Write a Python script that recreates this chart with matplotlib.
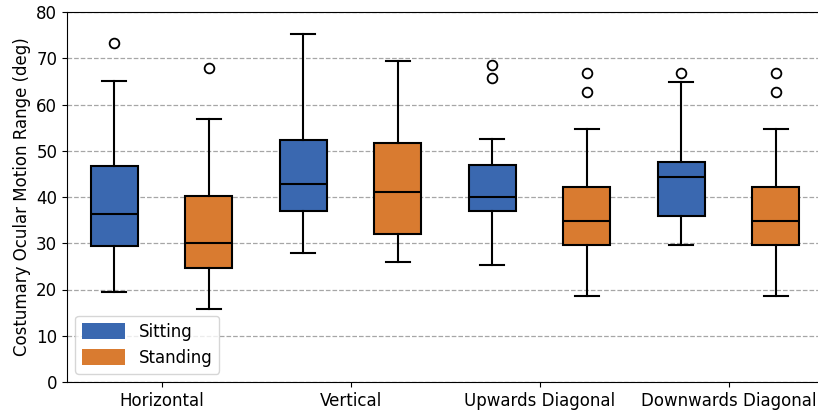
import matplotlib
matplotlib.use("Agg")
import matplotlib.pyplot as plt
from matplotlib.patches import Patch

categories = ["Horizontal", "Vertical", "Upwards Diagonal", "Downwards Diagonal"]
groups = ["Sitting", "Standing"]

# per category: [sitting, standing]
whislo = [[19.4, 15.8], [27.8, 26.0], [25.3, 18.7], [29.7, 18.7]]
q1 =     [[29.3, 24.6], [37.0, 31.9], [37.0, 29.7], [36.0, 29.7]]
med =    [[36.3, 30.0], [42.9, 41.1], [39.9, 34.8], [44.4, 34.8]]
q3 =     [[46.6, 40.3], [52.4, 51.7], [46.9, 42.2], [47.6, 42.2]]
whishi = [[65.0, 56.9], [75.2, 69.4], [52.5, 54.7], [64.9, 54.7]]
fliers = [[[73.4], [67.8]], [[], []], [[68.5, 65.7], [66.8, 62.8]], [[66.8], [66.8, 62.8]]]

colors = ["#3a68b0", "#d97b30"]

fig = plt.figure(figsize=(8.18, 4.16), dpi=100)
ax = fig.add_axes([67/818, 34/416, 756/818, 370/416])

offsets = [-0.25, 0.25]
for g in range(2):
    stats = []
    pos = []
    for i in range(len(categories)):
        stats.append(dict(whislo=whislo[i][g], q1=q1[i][g], med=med[i][g],
                          q3=q3[i][g], whishi=whishi[i][g], fliers=fliers[i][g]))
        pos.append(i + offsets[g])
    ax.bxp(stats, positions=pos, widths=0.25, patch_artist=True, showfliers=True,
           boxprops=dict(facecolor=colors[g], edgecolor="black", linewidth=1.5),
           medianprops=dict(color="black", linewidth=1.5),
           whiskerprops=dict(color="black", linewidth=1.5),
           capprops=dict(color="black", linewidth=1.5),
           flierprops=dict(marker="o", markerfacecolor="none", markeredgecolor="black",
                           markersize=7, markeredgewidth=1.3),
           zorder=3)

ax.set_xlim(-0.5, 3.5)
ax.set_ylim(0, 80)
ax.set_xticks(range(len(categories)))
ax.set_xticklabels(categories, fontsize=12)
ax.set_yticks(range(0, 81, 10))
ax.tick_params(axis="y", labelsize=12)
ax.set_ylabel("Costumary Ocular Motion Range (deg)", fontsize=12)
ax.spines["right"].set_visible(False)
ax.yaxis.grid(True, linestyle="--", color="gray", alpha=0.7, linewidth=0.9)
ax.set_axisbelow(True)

handles = [Patch(facecolor=colors[0], label=groups[0]), Patch(facecolor=colors[1], label=groups[1])]
ax.legend(handles=handles, loc="lower left", fontsize=12, handlelength=2.6, handleheight=1.1,
          borderaxespad=0.5)

fig.savefig("out.png", dpi=100)
